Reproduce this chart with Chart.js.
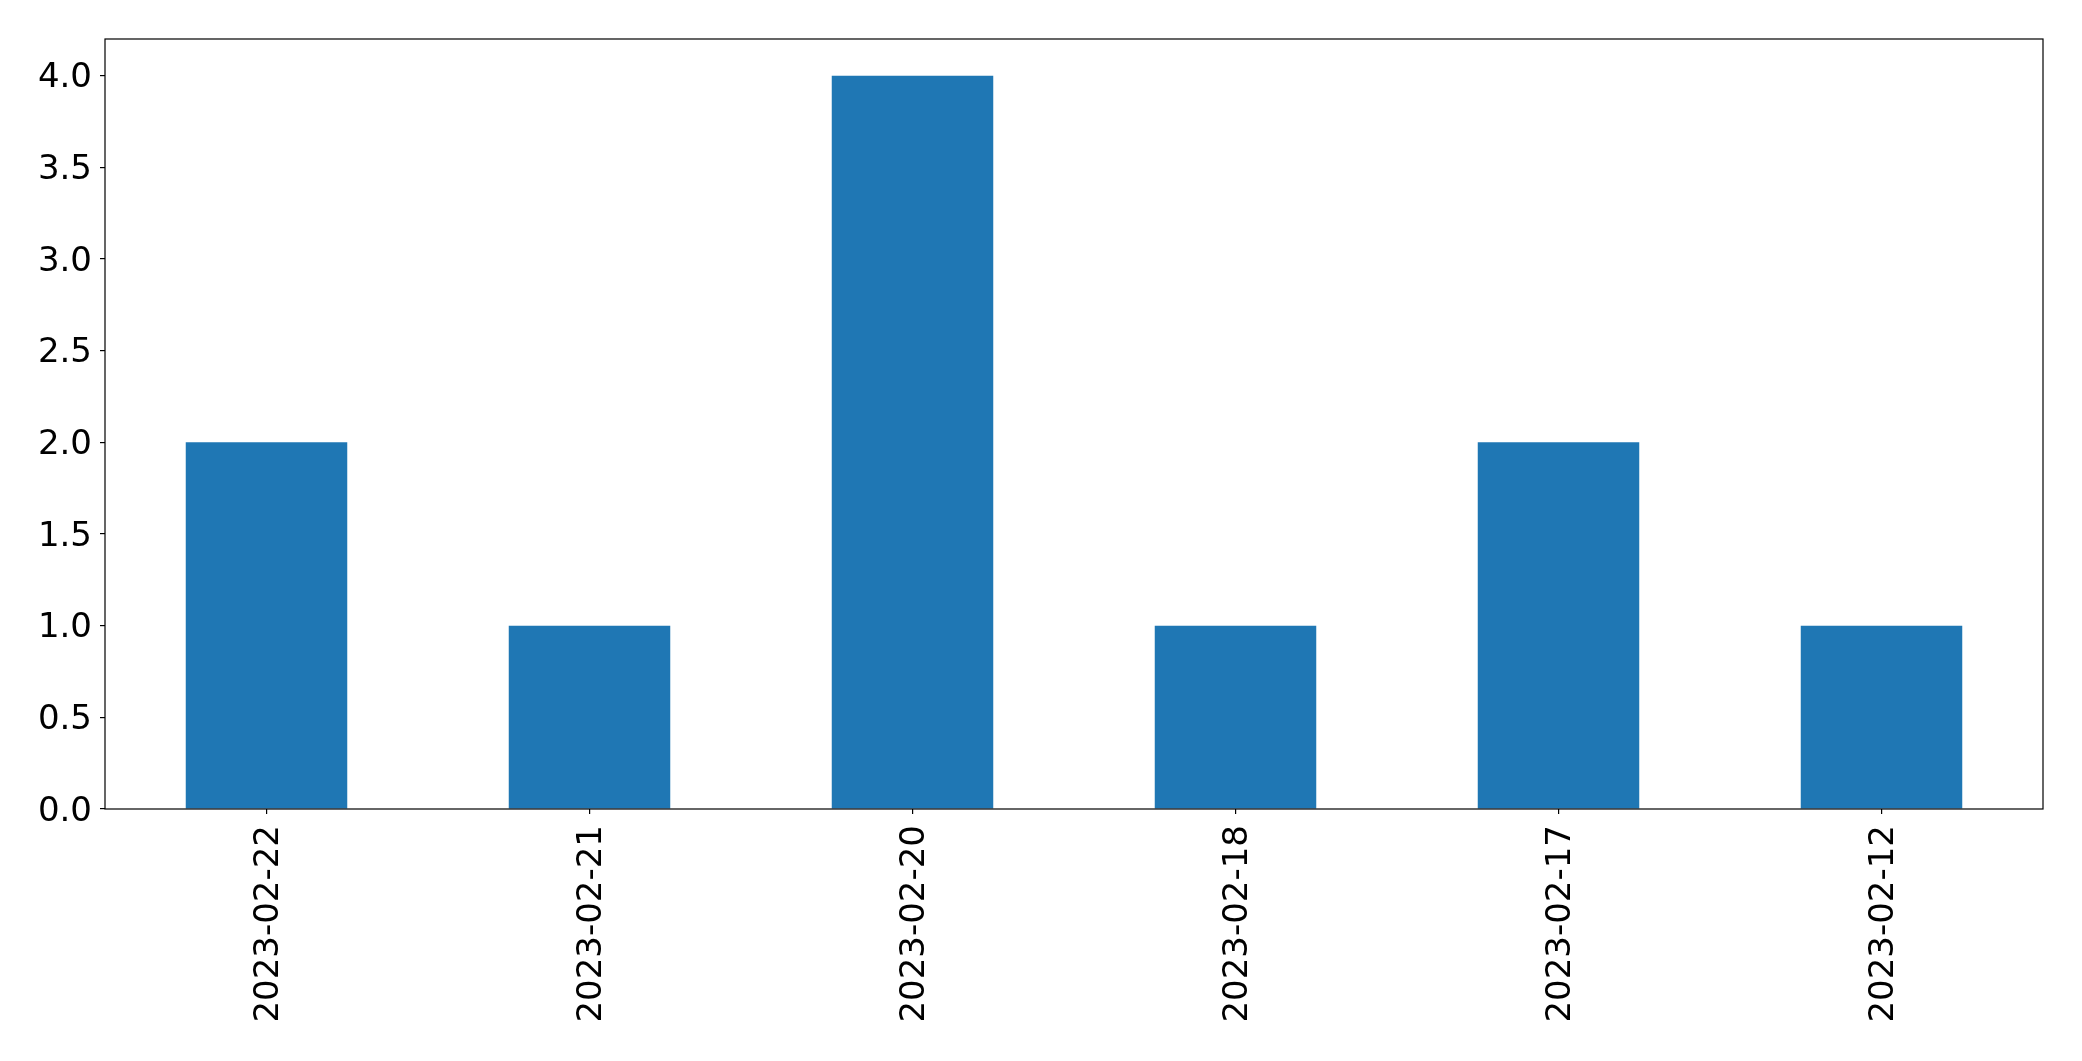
<!DOCTYPE html>
<html>
<head>
<meta charset="utf-8">
<script src="https://cdn.jsdelivr.net/npm/chart.js@4/dist/chart.umd.min.js"></script>
<style>
html,body{margin:0;padding:0;background:#fff;}
#wrap{width:2082px;height:1061px;position:relative;}
</style>
</head>
<body>
<div id="wrap"><canvas id="c" width="2082" height="1061"></canvas></div>
<script>
const categories = ["2023-02-22", "2023-02-21", "2023-02-20", "2023-02-18", "2023-02-17", "2023-02-12"];
const counts = [2, 1, 4, 1, 2, 1];
const yTicks = [0, 0.5, 1.0, 1.5, 2.0, 2.5, 3.0, 3.5, 4.0];
const yMax = 4.2;

const boxPlugin = {
  id: 'box',
  afterDatasetsDraw(chart) {
    const a = chart.chartArea, ctx = chart.ctx;
    ctx.save();
    ctx.strokeStyle = '#000';
    ctx.lineWidth = 1.2;
    ctx.strokeRect(a.left, a.top, a.right - a.left, a.bottom - a.top);
    ctx.restore();
  }
};

const font = {family: '"DejaVu Sans"', size: 34};

new Chart(document.getElementById('c'), {
  type: 'bar',
  data: {
    labels: categories,
    datasets: [{
      data: counts,
      backgroundColor: '#1f77b4',
      borderWidth: 0,
      barPercentage: 0.5,
      categoryPercentage: 1.0
    }]
  },
  options: {
    responsive: false,
    animation: false,
    layout: {padding: {top: 39, right: 39, left: 0, bottom: 0}},
    plugins: {legend: {display: false}, tooltip: {enabled: false}},
    scales: {
      x: {
        grid: {display: true, offset: false, drawOnChartArea: false, drawTicks: true, tickLength: 5, color: '#000', lineWidth: 1.2},
        border: {display: false},
        ticks: {color: '#000', font: font, maxRotation: 90, minRotation: 90, padding: 11, labelOffset: 3, autoSkip: false},
        afterFit(scale) { scale.height = 1061 - 809; }
      },
      y: {
        min: 0,
        max: yMax,
        grid: {display: true, drawOnChartArea: false, drawTicks: true, tickLength: 5, color: '#000', lineWidth: 1.2},
        border: {display: false},
        afterBuildTicks(scale) { scale.ticks = yTicks.map(v => ({value: v})); },
        ticks: {color: '#000', font: font, padding: 8, labelOffset: 3, callback: v => Number(v).toFixed(1)},
        afterFit(scale) { scale.width = 105; }
      }
    }
  },
  plugins: [boxPlugin]
});
</script>
</body>
</html>
